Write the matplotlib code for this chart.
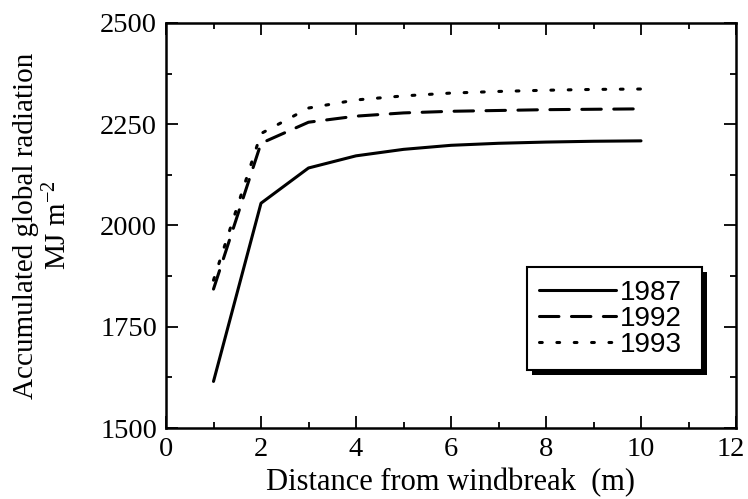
import matplotlib
matplotlib.use("Agg")
import matplotlib.pyplot as plt
from matplotlib.patches import Rectangle
from matplotlib.ticker import MultipleLocator
from matplotlib.transforms import ScaledTranslation

# Accumulated global radiation (MJ m-2) versus distance from the windbreak
distance = [1, 2, 3, 4, 5, 6, 7, 8, 9, 10]
rad_1987 = [1615, 2055, 2142, 2172, 2188, 2198, 2203, 2206, 2208, 2209]
rad_1992 = [1843, 2203, 2255, 2270, 2278, 2282, 2284, 2286, 2287, 2288]
rad_1993 = [1865, 2227, 2290, 2310, 2320, 2327, 2331, 2334, 2336, 2337]
years = ["1987", "1992", "1993"]

x_ticks = [0, 2, 4, 6, 8, 10, 12]
y_ticks = [1500, 1750, 2000, 2250, 2500]

plt.rcParams["lines.scale_dashes"] = False
plt.rcParams["mathtext.fontset"] = "custom"
plt.rcParams["mathtext.rm"] = "Liberation Serif"
plt.rcParams["mathtext.it"] = "Liberation Serif:italic"

serif = "Liberation Serif"
sans = "Liberation Sans"

fig = plt.figure(figsize=(7.48, 4.99), dpi=100)
ax = fig.add_axes([166 / 748, 1 - 428 / 499, 570 / 748, 405 / 499])

lw = 2.2
ax.plot(distance, rad_1987, color="black", lw=lw, solid_capstyle="round",
        solid_joinstyle="round", label=years[0])
ax.plot(distance, rad_1992, color="black", lw=lw, ls=(0, (14, 9)),
        dash_capstyle="round", label=years[1])
ax.plot(distance, rad_1993, color="black", lw=lw, ls=(0, (2, 10.5)),
        dash_capstyle="round", label=years[2])

ax.set_xlim(0, 12)
ax.set_ylim(1500, 2500)
ax.set_xticks(x_ticks)
ax.set_yticks(y_ticks)
ax.xaxis.set_minor_locator(MultipleLocator(1))
ax.yaxis.set_minor_locator(MultipleLocator(125))
ax.tick_params(which="both", direction="in", top=True, right=True,
               width=1.3, color="black")
ax.tick_params(which="major", length=8.5, pad=6.5, labelsize=20.5)
ax.tick_params(which="minor", length=4.3)
for lab in ax.get_xticklabels() + ax.get_yticklabels():
    lab.set_fontfamily(serif)

for sp in ax.spines.values():
    sp.set_linewidth(1.8)

ax.set_xlabel("Distance from windbreak  (m)", fontsize=22, family=serif,
              labelpad=4)
ax.set_ylabel("Accumulated global radiation\nMJ m$^{-2}$", fontsize=21,
              family=serif, labelpad=20, linespacing=1.2)

leg = ax.legend(loc="lower left", bbox_to_anchor=(0.633, 0.143, 0.307, 0.255),
                mode="expand", frameon=True, fancybox=False, shadow=False,
                prop={"family": sans, "size": 20}, handlelength=2.75,
                handletextpad=0.15, labelspacing=0.0, borderpad=0.45,
                borderaxespad=0)
frame = leg.get_frame()
frame.set_edgecolor("black")
frame.set_linewidth(1.5)
frame.set_facecolor("white")
frame.set_alpha(1)
leg.set_zorder(10)

# Solid drop shadow under the legend box
fig.canvas.draw()
bb = leg.get_frame().get_window_extent()
shadow = Rectangle((bb.x0 + 5, bb.y0 - 5), bb.width, bb.height,
                   transform=None, facecolor="black", edgecolor="none",
                   zorder=9, clip_on=False)
ax.add_artist(shadow)

# Nudge the last x tick label inward so it stays inside the figure
last = ax.xaxis.get_major_ticks()[-1].label1
last.set_transform(last.get_transform()
                   + ScaledTranslation(-4 / 72, 0, fig.dpi_scale_trans))

fig.savefig("out.png", dpi=100)
